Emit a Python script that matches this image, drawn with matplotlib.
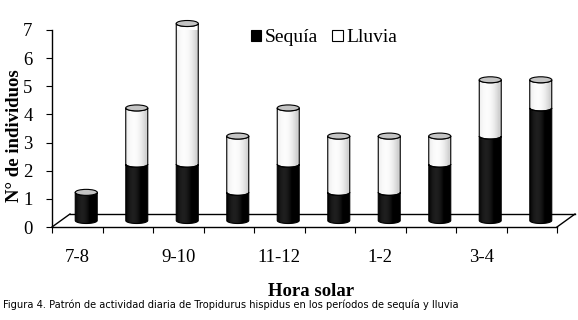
import numpy as np
import matplotlib.pyplot as plt
from matplotlib.patches import Polygon, Ellipse, Patch

# datos
horas = ['7-8', '', '9-10', '', '11-12', '', '1-2', '', '3-4', '']
sequia = [1, 2, 2, 1, 2, 1, 1, 2, 3, 4]
lluvia = [0, 2, 5, 2, 2, 2, 2, 1, 2, 1]

plt.rcParams['font.family'] = ['Liberation Serif', 'DejaVu Serif']

W, H = 578, 320
fig = plt.figure(figsize=(W / 100, H / 100), dpi=100)
x0, x1, ytop, ybot = 52, 557, 30, 227
ax = fig.add_axes([x0 / W, 1 - ybot / H, (x1 - x0) / W, (ybot - ytop) / H])
n = len(sequia)
ax.set_xlim(0, n)
ax.set_ylim(0, 7)

# pixeles por unidad, para el efecto 3d
ppx = (x1 - x0) / n
ppy = (ybot - ytop) / 7
ddx, ddy = 18 / ppx, 13 / ppy      # profundidad del piso
bw = 22 / ppx                       # ancho del cilindro
eh = 6 / ppy                        # alto de la elipse

# piso
ax.plot([ddx, n + ddx], [ddy, ddy], color='k', lw=1, clip_on=False, zorder=1)
ax.plot([0, ddx], [0, ddy], color='k', lw=1, clip_on=False, zorder=1)
ax.plot([n, n + ddx], [0, ddy], color='k', lw=1, clip_on=False, zorder=1)


def shade(kind, npts=64):
    u = np.linspace(-1, 1, npts)
    if kind == 'dark':
        v = 0.0 + 0.12 * np.clip(1 - ((u + 0.35) / 0.7) ** 2, 0, 1)
    else:
        v = 0.82 + 0.17 * np.clip(1 - ((u + 0.3) / 1.1) ** 2, 0, 1)
    return np.dstack([v, v, v])


def segment(cx, y0, y1, kind):
    t = np.linspace(np.pi, 2 * np.pi, 40)
    xb = cx + bw / 2 * np.cos(t)
    yb = y0 + eh / 2 * np.sin(t)
    yt = y1 + eh / 2 * np.sin(t)
    pts = np.column_stack([np.r_[xb, xb[::-1]], np.r_[yb, yt[::-1]]])
    poly = Polygon(pts, closed=True, facecolor='none', edgecolor='k',
                   lw=0.8, zorder=4, clip_on=False)
    ax.add_patch(poly)
    im = ax.imshow(shade(kind), extent=[cx - bw / 2, cx + bw / 2, y0 - eh, y1 + eh],
                   aspect='auto', zorder=3, interpolation='bilinear')
    im.set_clip_path(poly)


for i in range(n):
    cx = i + 0.5 + ddx / 2
    base = ddy / 2
    s, l = sequia[i], lluvia[i]
    segment(cx, base, base + s, 'dark')
    if l > 0:
        segment(cx, base + s, base + s + l, 'light')
    ax.add_patch(Ellipse((cx, base + s + l), bw, eh, facecolor='#c4c4c4',
                         edgecolor='k', lw=0.8, zorder=5, clip_on=False))

ax.set_xlim(0, n)
ax.set_ylim(0, 7)

for sp in ['top', 'right']:
    ax.spines[sp].set_visible(False)
ax.spines['left'].set_linewidth(1)
ax.spines['bottom'].set_linewidth(1)

ax.set_xticks(range(n + 1))
ax.set_xticklabels([])
ax.set_xticks(np.arange(n) + 0.5, minor=True)
ax.set_xticklabels(horas, minor=True, fontsize=13.5)
ax.tick_params(axis='x', which='major', direction='out', length=4, width=0.8)
ax.tick_params(axis='x', which='minor', length=0, pad=16)
ax.set_yticks(range(8))
ax.tick_params(axis='y', direction='out', length=4, width=0.8, pad=10, labelsize=13.5)

fig.text(311 / W, 1 - 292 / H, 'Hora solar', ha='center', va='center',
         fontsize=13.5, fontweight='bold')
fig.text(15 / W, 1 - 136 / H, 'N° de individuos', ha='center', va='center',
         rotation=90, fontsize=13.5, fontweight='bold')

handles = [Patch(facecolor='black', edgecolor='black', lw=0.8),
           Patch(facecolor='white', edgecolor='black', lw=0.8)]
fig.legend(handles, ['Sequía', 'Lluvia'], loc='center', ncol=2, frameon=False,
           bbox_to_anchor=(324 / W, 1 - 38 / H), fontsize=14, handlelength=0.55,
           handleheight=0.55, handletextpad=0.2, columnspacing=0.7)

fig.text(3 / W, 1 - 305 / H,
         'Figura 4. Patrón de actividad diaria de Tropidurus hispidus en los períodos de sequía y lluvia',
         family='DejaVu Sans', fontsize=7.1, va='center', ha='left')

fig.savefig('out.png', dpi=100, facecolor='white')
